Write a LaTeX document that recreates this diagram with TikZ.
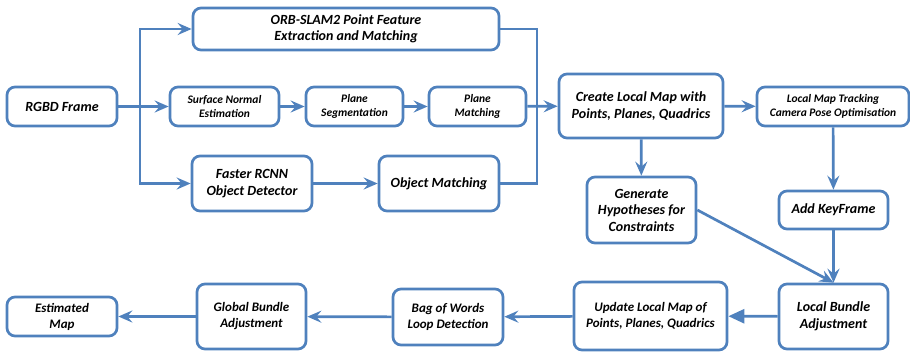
\documentclass[tikz,border=0pt]{standalone}
\usepackage{fontspec}
\setmainfont{Carlito}
\usetikzlibrary{arrows.meta}

\definecolor{flowblue}{RGB}{79,129,189}

\begin{document}
\begin{tikzpicture}[
    x=1pt, y=-1pt,
    box/.style={draw=flowblue, line width=2.7pt, rounded corners=8pt, fill=white,
                align=center, inner sep=0pt, font=\bfseries\itshape\fontsize{14}{16.5}\selectfont},
    smallbox/.style={box, font=\bfseries\itshape\fontsize{11.5}{14}\selectfont},
    midbox/.style={box, font=\bfseries\itshape\fontsize{13}{16}\selectfont},
    link/.style={draw=flowblue, line width=2.7pt},
    arrow/.style={link, -{Stealth[length=14pt,width=12pt,inset=5pt]}},
    bigarrow/.style={link, -{Triangle[length=16pt,width=14pt]}},
  ]
  \useasboundingbox (0,0) rectangle (910,351);
  % front end
  \node[box]      (rgbd)     at (62,106.5)   [minimum width=110pt, minimum height=39pt] {RGBD Frame};
  \node[box]      (orb)      at (346,29)     [minimum width=306pt, minimum height=42pt] {ORB-SLAM2 Point Feature\\Extraction and Matching};
  \node[smallbox] (surf)     at (224.5,106.5) [minimum width=109pt, minimum height=39pt] {Surface Normal\\Estimation};
  \node[smallbox] (seg)      at (354.5,106.5) [minimum width=97pt, minimum height=39pt] {Plane\\Segmentation};
  \node[smallbox] (pmatch)   at (477.5,106.5) [minimum width=97pt, minimum height=39pt] {Plane\\Matching};
  \node[box]      (faster)   at (252,183.5)  [minimum width=120pt, minimum height=55pt] {Faster RCNN\\Object Detector};
  \node[box]      (omatch)   at (439,183.5)  [minimum width=120pt, minimum height=55pt] {Object Matching};
  \coordinate (split) at (140,106.5);
  \coordinate (merge) at (537,106.5);
  \draw[link]  (rgbd) -- (split);
  \draw[arrow] (split) |- (orb);
  \draw[arrow] (split) -- (surf);
  \draw[arrow] (split) |- (faster);
  \draw[arrow] (surf) -- (seg);
  \draw[arrow] (seg) -- (pmatch);
  \draw[arrow] (faster) -- (omatch);
  \draw[link]  (orb.east) -| (merge) |- (omatch.east);
  % tracking
  \node[box]      (create)   at (641,106)    [minimum width=164pt, minimum height=64pt] {Create Local Map with\\Points, Planes, Quadrics};
  \node[smallbox] (tracking) at (833,106.5)  [minimum width=152pt, minimum height=39pt] {Local Map Tracking\\Camera Pose Optimisation};
  \node[box]      (hypo)     at (641.5,210)  [minimum width=109pt, minimum height=66pt] {Generate\\Hypotheses for\\Constraints};
  \node[box]      (keyframe) at (833.5,210)  [minimum width=109pt, minimum height=38pt] {Add KeyFrame};
  \draw[arrow] (pmatch) -- (create);
  \draw[arrow] (create) -- (tracking);
  \draw[arrow] (create) -- (hypo);
  \draw[arrow] (tracking) -- (keyframe);
  % back end
  \node[box]      (localba)  at (833.5,316.5) [minimum width=109pt, minimum height=65pt] {Local Bundle\\Adjustment};
  \node[midbox]   (update)   at (650.5,316)  [minimum width=153pt, minimum height=68pt] {Update Local Map of\\Points, Planes, Quadrics};
  \node[midbox]   (bow)      at (448,317)    [minimum width=110pt, minimum height=56pt] {Bag of Words\\Loop Detection};
  \node[midbox]   (globalba) at (251.5,316.5) [minimum width=109pt, minimum height=65pt] {Global Bundle\\Adjustment};
  \node[midbox]   (estmap)   at (62,316.5)   [minimum width=110pt, minimum height=39pt] {Estimated\\Map};
  \draw[arrow] (keyframe) -- (localba);
  \draw[arrow] (hypo.east) -- (localba.north);
  \draw[bigarrow] (localba) -- (update);
  \draw[arrow] (update) -- (bow);
  \draw[arrow] (bow) -- (globalba);
  \draw[arrow] (globalba) -- (estmap);
\end{tikzpicture}
\end{document}
